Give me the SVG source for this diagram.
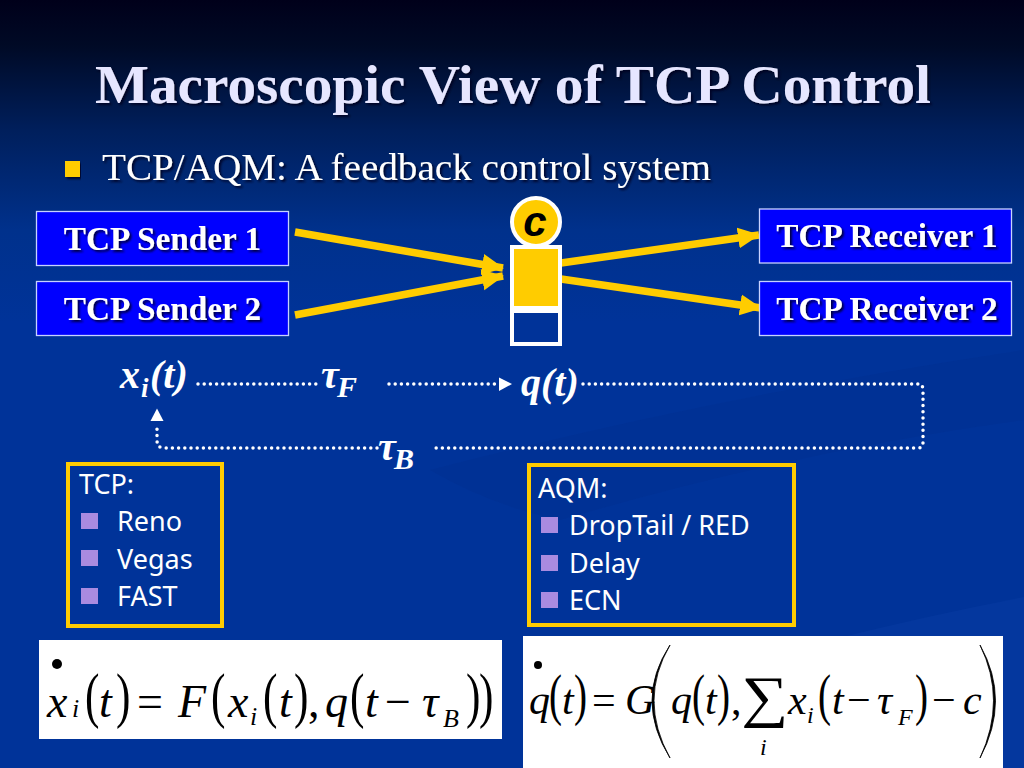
<svg xmlns="http://www.w3.org/2000/svg" width="1024" height="768" viewBox="0 0 1024 768">
<defs>
<linearGradient id="bg" x1="0" y1="0" x2="0" y2="1"><stop offset="0" stop-color="#00001a"/><stop offset="0.06" stop-color="#000a26"/><stop offset="0.17" stop-color="#001f5c"/><stop offset="0.3" stop-color="#00318c"/><stop offset="0.42" stop-color="#003399"/><stop offset="1" stop-color="#003399"/></linearGradient>
<filter id="sh" x="-5%" y="-20%" width="110%" height="140%"><feDropShadow dx="2" dy="2" stdDeviation="1" flood-color="#000020" flood-opacity="0.85"/></filter>
<marker id="ah" markerUnits="userSpaceOnUse" markerWidth="24" markerHeight="24" refX="21" refY="12" orient="auto"><path d="M0 1.500 L22 12 L0 22.500 Z" fill="#ffcc00"/></marker>
</defs>
<style>
.node{fill:#0000ff;stroke:#c8d2ff;stroke-width:1.3}
.nl{font-family:"Liberation Serif",serif;font-weight:bold;font-size:33.300px;fill:#fff;text-anchor:middle;filter:url(#sh)}
.sans{font-family:"Noto Sans","DejaVu Sans",sans-serif;fill:#fff;font-size:27px}
.ar{stroke:#ffcc00;stroke-width:7.500;fill:none;marker-end:url(#ah)}
.dot{stroke:#fff;stroke-width:3.500;stroke-linecap:round;stroke-dasharray:0 6.200;fill:none}
.m{font-family:"Liberation Serif",serif;font-style:italic;font-weight:bold;fill:#fff;font-size:40px}
.box{fill:none;stroke:#ffcc00;stroke-width:4}
.b{fill:#a98be0}
.eq{font-family:"Liberation Serif",serif;fill:#000}
.i{font-style:italic}
.p1{font-size:62px}
.p2{font-size:56px}
</style>
<rect width="1024" height="768" fill="url(#bg)"/>
<path d="M430 470 Q720 395 1024 350 L1024 420 Q800 450 560 520 Q490 505 430 470Z" fill="#002f8f" opacity=".4"/>
<path d="M830 640 Q930 615 1024 597 L1024 768 L830 768Z" fill="#0a3ea6" opacity=".4"/>

<text x="95" y="103" font-family="'Liberation Serif',serif" font-size="55" font-weight="bold" fill="#e6e6ff" textLength="836" lengthAdjust="spacingAndGlyphs" filter="url(#sh)">Macroscopic View of TCP Control</text>
<g id="subtitle">
<rect x="65" y="161" width="15" height="16" fill="#ffcc00" filter="url(#sh)"/>
<text x="102" y="180" font-family="'Liberation Serif',serif" font-size="37" fill="#fff" textLength="609" lengthAdjust="spacingAndGlyphs" filter="url(#sh)">TCP/AQM: A feedback control system</text>
</g>

<g id="connectors">
<line class="ar" x1="295" y1="232" x2="503" y2="268"/>
<line class="ar" x1="295" y1="315" x2="503" y2="276"/>
<line class="ar" x1="561" y1="263" x2="759" y2="235"/>
<line class="ar" x1="561" y1="279" x2="761" y2="308"/>
<g id="dotted">
<path class="dot" d="M198 384 H320"/>
<path class="dot" d="M389 384 H497"/>
<path d="M499 377.500 L512 384 L499 391Z" fill="#fff"/>
<path class="dot" d="M583 384 H920 Q923 384 923 392 V442 Q923 448 918 448 H436"/>
<path class="dot" d="M377 448 H164 Q157 448 157 440 V425"/>
<path d="M157 408.500 L163.500 421 L150.500 421Z" fill="#fff"/>
</g>
</g>

<g id="sender1"><rect class="node" x="36.500" y="211.500" width="252" height="54"/><text class="nl" x="162.500" y="250">TCP Sender 1</text></g>
<g id="sender2"><rect class="node" x="36.500" y="281.500" width="252" height="54"/><text class="nl" x="162.500" y="320">TCP Sender 2</text></g>
<g id="receiver1"><rect class="node" x="759.500" y="209" width="252" height="54"/><text class="nl" x="887" y="247">TCP Receiver 1</text></g>
<g id="receiver2"><rect class="node" x="759.500" y="281.500" width="252" height="54"/><text class="nl" x="887" y="320">TCP Receiver 2</text></g>

<g id="queue">
<rect x="510" y="245" width="52" height="101" fill="#fff"/>
<rect x="514" y="249" width="44" height="57" fill="#ffcc00"/>
<rect x="514" y="313" width="44" height="29" fill="#003399"/>
</g>
<g id="capacity">
<circle cx="536" cy="222" r="24" fill="#ffcc00" stroke="#fff" stroke-width="4"/>
<text x="535" y="236" font-family="'Liberation Sans',sans-serif" font-size="42" font-weight="bold" font-style="italic" text-anchor="middle" fill="#000">c</text>
</g>

<text class="m" x="120" y="388">x<tspan font-size="27" x="141" y="397">i</tspan><tspan x="150" y="388">(t)</tspan></text>
<text class="m" x="321" y="388">τ<tspan font-size="30" x="337" y="397">F</tspan></text>
<text class="m" x="378" y="460">τ<tspan font-size="30" x="394" y="469">B</tspan></text>
<text class="m" x="521" y="396">q(t)</text>

<g id="tcp-box">
<rect class="box" x="68" y="464" width="154" height="162"/>
<text class="sans" x="79" y="494">TCP:</text>
<rect class="b" x="81" y="513" width="17" height="16"/><text class="sans" x="117" y="531">Reno</text>
<rect class="b" x="81" y="550" width="17" height="16"/><text class="sans" x="117" y="569">Vegas</text>
<rect class="b" x="81" y="588" width="17" height="16"/><text class="sans" x="117" y="606">FAST</text>
</g>
<g id="aqm-box">
<rect class="box" x="529" y="465" width="265" height="160"/>
<text class="sans" x="538" y="498">AQM:</text>
<rect class="b" x="541" y="517" width="17" height="16"/><text class="sans" x="569" y="535">DropTail / RED</text>
<rect class="b" x="541" y="555" width="17" height="16"/><text class="sans" x="569" y="573">Delay</text>
<rect class="b" x="541" y="592" width="17" height="16"/><text class="sans" x="569" y="610">ECN</text>
</g>

<g id="equation-1">
<rect x="39" y="640" width="463" height="99" fill="#fff"/>
<circle cx="57" cy="664" r="5" fill="#000"/>
<text class="eq" font-size="46"><tspan class="i" x="47" y="717">x</tspan><tspan class="i" x="72" y="717" font-size="26">i</tspan><tspan class="i" x="99" y="717">t</tspan><tspan x="137" y="717">=</tspan><tspan class="i" x="178" y="717">F</tspan><tspan class="i" x="228" y="717">x</tspan><tspan class="i" x="250" y="725" font-size="26">i</tspan><tspan class="i" x="279" y="717">t</tspan><tspan x="308" y="717">,</tspan><tspan class="i" x="325" y="717">q</tspan><tspan class="i" x="365" y="717">t</tspan><tspan x="385" y="717">−</tspan><tspan class="i" x="422" y="717">τ</tspan><tspan class="i" x="443" y="727" font-size="26">B</tspan></text>
<text class="eq p1" transform="translate(85 716) scale(.7 1)">(</text>
<text class="eq p1" transform="translate(116 716) scale(.7 1)">)</text>
<text class="eq p1" transform="translate(211 716) scale(.7 1)">(</text>
<text class="eq p1" transform="translate(263 716) scale(.7 1)">(</text>
<text class="eq p1" transform="translate(294 716) scale(.7 1)">)</text>
<text class="eq p1" transform="translate(350 716) scale(.7 1)">(</text>
<text class="eq p1" transform="translate(466 716) scale(.7 1)">)</text>
<text class="eq p1" transform="translate(479 716) scale(.7 1)">)</text>
</g>

<g id="equation-2">
<rect x="523" y="636" width="480" height="132" fill="#fff"/>
<circle cx="538" cy="665" r="4" fill="#000"/>
<text class="eq" font-size="42"><tspan class="i" x="529" y="714">q</tspan><tspan class="i" x="562" y="714">t</tspan><tspan x="592" y="714">=</tspan><tspan class="i" x="625" y="714">G</tspan><tspan class="i" x="671" y="714">q</tspan><tspan class="i" x="705" y="714">t</tspan><tspan x="731" y="714">,</tspan><tspan class="i" x="760" y="755" font-size="24">i</tspan><tspan class="i" x="788" y="714">x</tspan><tspan class="i" x="807" y="723" font-size="24">i</tspan><tspan class="i" x="832" y="714">t</tspan><tspan x="847" y="714">−</tspan><tspan class="i" x="877" y="714">τ</tspan><tspan class="i" x="898" y="725" font-size="24">F</tspan><tspan x="932" y="714">−</tspan><tspan class="i" x="963" y="714">c</tspan></text>
<text class="eq p2" transform="translate(549 714) scale(.7 1)">(</text>
<text class="eq p2" transform="translate(574 714) scale(.7 1)">)</text>
<text class="eq p2" transform="translate(692 714) scale(.7 1)">(</text>
<text class="eq p2" transform="translate(717 714) scale(.7 1)">)</text>
<text class="eq p2" transform="translate(818 714) scale(.7 1)">(</text>
<text class="eq p2" transform="translate(915 714) scale(.7 1)">)</text>
<text class="eq" font-size="66" transform="translate(741 716) scale(1 .87)">∑</text>
<path d="M670 645 Q634 700 670 758 Q638 700 670 645Z" fill="#000" stroke="#000" stroke-width=".8"/>
<path d="M980 645 Q1011 700 980 758 Q1007 700 980 645Z" fill="#000" stroke="#000" stroke-width=".8"/>
</g>
</svg>
